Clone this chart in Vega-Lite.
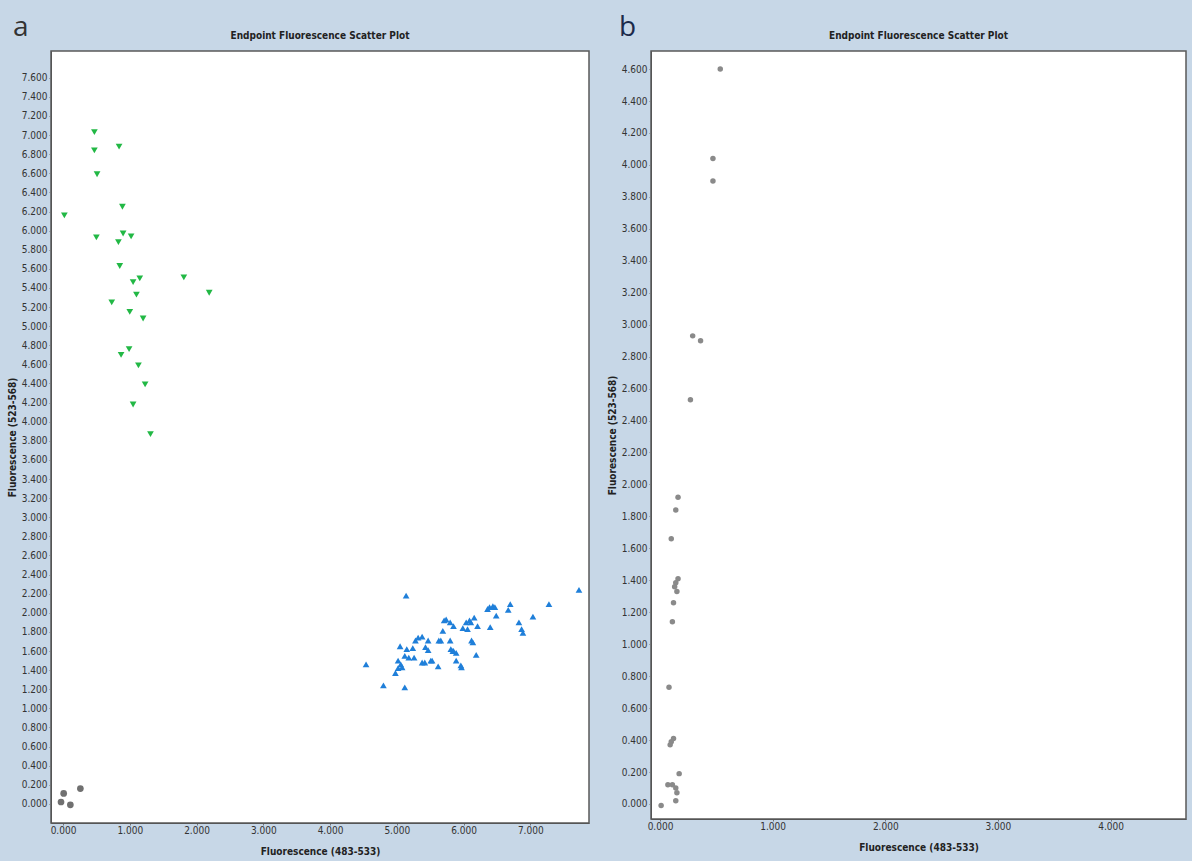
{
  "$schema": "https://vega.github.io/schema/vega-lite/v6.json",
  "background": "#c7d7e7",
  "padding": {"left": 6, "top": 14, "right": 6, "bottom": 4},
  "spacing": 16,
  "config": {
    "view": {"fill": "white", "stroke": "#5a5a5a", "strokeWidth": 1.5},
    "axis": {
      "labelFont": "DejaVu Sans Condensed, Liberation Sans, sans-serif",
      "labelFontSize": 10,
      "labelColor": "#333",
      "titleFont": "DejaVu Sans Condensed, Liberation Sans, sans-serif",
      "titleFontSize": 10,
      "titleFontWeight": "bold",
      "titleColor": "#222",
      "domainColor": "#555",
      "tickColor": "#777",
      "tickSize": 2,
      "grid": false
    },
    "title": {"font": "DejaVu Sans Condensed, Liberation Sans, sans-serif", "fontSize": 10, "fontWeight": "bold", "color": "#222"}
  },
  "datasets": {
    "a": [
      {"group": "green", "x": 0.47, "y": 7.03}, {"group": "green", "x": 0.47, "y": 6.84},
      {"group": "green", "x": 0.84, "y": 6.88}, {"group": "green", "x": 0.51, "y": 6.59},
      {"group": "green", "x": 0.89, "y": 6.25}, {"group": "green", "x": 0.02, "y": 6.16},
      {"group": "green", "x": 0.50, "y": 5.93}, {"group": "green", "x": 0.90, "y": 5.97},
      {"group": "green", "x": 1.02, "y": 5.94}, {"group": "green", "x": 0.83, "y": 5.88},
      {"group": "green", "x": 0.85, "y": 5.63}, {"group": "green", "x": 1.15, "y": 5.50},
      {"group": "green", "x": 1.05, "y": 5.46}, {"group": "green", "x": 1.81, "y": 5.51},
      {"group": "green", "x": 1.10, "y": 5.33}, {"group": "green", "x": 2.19, "y": 5.35},
      {"group": "green", "x": 0.73, "y": 5.25}, {"group": "green", "x": 1.00, "y": 5.15},
      {"group": "green", "x": 1.20, "y": 5.08}, {"group": "green", "x": 0.99, "y": 4.76},
      {"group": "green", "x": 0.87, "y": 4.70}, {"group": "green", "x": 1.13, "y": 4.59},
      {"group": "green", "x": 1.23, "y": 4.39}, {"group": "green", "x": 1.05, "y": 4.18},
      {"group": "green", "x": 1.31, "y": 3.87},
      {"group": "grey", "x": -0.03, "y": 0.02}, {"group": "grey", "x": 0.01, "y": 0.11},
      {"group": "grey", "x": 0.11, "y": -0.01}, {"group": "grey", "x": 0.26, "y": 0.16},
      {"group": "blue", "x": 5.14, "y": 2.18}, {"group": "blue", "x": 7.73, "y": 2.24},
      {"group": "blue", "x": 7.28, "y": 2.09}, {"group": "blue", "x": 6.70, "y": 2.09},
      {"group": "blue", "x": 6.67, "y": 2.03}, {"group": "blue", "x": 6.39, "y": 2.06},
      {"group": "blue", "x": 6.47, "y": 2.06}, {"group": "blue", "x": 6.49, "y": 1.97},
      {"group": "blue", "x": 6.40, "y": 1.85}, {"group": "blue", "x": 7.04, "y": 1.96},
      {"group": "blue", "x": 6.83, "y": 1.90}, {"group": "blue", "x": 6.87, "y": 1.83},
      {"group": "blue", "x": 6.89, "y": 1.79}, {"group": "blue", "x": 6.16, "y": 1.95},
      {"group": "blue", "x": 6.09, "y": 1.92}, {"group": "blue", "x": 6.04, "y": 1.90},
      {"group": "blue", "x": 5.99, "y": 1.84}, {"group": "blue", "x": 6.06, "y": 1.83},
      {"group": "blue", "x": 5.74, "y": 1.93}, {"group": "blue", "x": 5.80, "y": 1.90},
      {"group": "blue", "x": 5.85, "y": 1.86}, {"group": "blue", "x": 5.69, "y": 1.81},
      {"group": "blue", "x": 5.63, "y": 1.71}, {"group": "blue", "x": 6.12, "y": 1.71},
      {"group": "blue", "x": 6.19, "y": 1.56}, {"group": "blue", "x": 5.80, "y": 1.71},
      {"group": "blue", "x": 5.81, "y": 1.62}, {"group": "blue", "x": 5.85, "y": 1.60},
      {"group": "blue", "x": 5.89, "y": 1.58}, {"group": "blue", "x": 5.89, "y": 1.50},
      {"group": "blue", "x": 5.97, "y": 1.43}, {"group": "blue", "x": 5.62, "y": 1.44},
      {"group": "blue", "x": 5.51, "y": 1.50}, {"group": "blue", "x": 5.38, "y": 1.48},
      {"group": "blue", "x": 5.42, "y": 1.48}, {"group": "blue", "x": 5.47, "y": 1.71},
      {"group": "blue", "x": 5.47, "y": 1.61}, {"group": "blue", "x": 5.38, "y": 1.75},
      {"group": "blue", "x": 5.28, "y": 1.71}, {"group": "blue", "x": 5.32, "y": 1.74},
      {"group": "blue", "x": 5.24, "y": 1.63}, {"group": "blue", "x": 5.15, "y": 1.62},
      {"group": "blue", "x": 5.05, "y": 1.65}, {"group": "blue", "x": 5.12, "y": 1.55},
      {"group": "blue", "x": 5.18, "y": 1.53}, {"group": "blue", "x": 5.26, "y": 1.53},
      {"group": "blue", "x": 5.02, "y": 1.50}, {"group": "blue", "x": 5.06, "y": 1.46},
      {"group": "blue", "x": 5.02, "y": 1.42}, {"group": "blue", "x": 4.98, "y": 1.37},
      {"group": "blue", "x": 5.08, "y": 1.43}, {"group": "blue", "x": 4.54, "y": 1.46},
      {"group": "blue", "x": 4.80, "y": 1.24}, {"group": "blue", "x": 5.12, "y": 1.22},
      {"group": "blue", "x": 5.71, "y": 1.92}, {"group": "blue", "x": 6.11, "y": 1.90},
      {"group": "blue", "x": 6.21, "y": 1.86}, {"group": "blue", "x": 6.36, "y": 2.04},
      {"group": "blue", "x": 6.44, "y": 2.07}, {"group": "blue", "x": 5.66, "y": 1.71},
      {"group": "blue", "x": 5.53, "y": 1.50}, {"group": "blue", "x": 5.84, "y": 1.60},
      {"group": "blue", "x": 5.43, "y": 1.64}, {"group": "blue", "x": 6.14, "y": 1.69},
      {"group": "blue", "x": 5.96, "y": 1.45}
    ],
    "b": [
      {"x": 0.535, "y": 4.60}, {"x": 0.47, "y": 4.04}, {"x": 0.47, "y": 3.90},
      {"x": 0.29, "y": 2.93}, {"x": 0.36, "y": 2.90}, {"x": 0.27, "y": 2.53},
      {"x": 0.16, "y": 1.92}, {"x": 0.14, "y": 1.84}, {"x": 0.10, "y": 1.66},
      {"x": 0.16, "y": 1.41}, {"x": 0.14, "y": 1.385}, {"x": 0.13, "y": 1.36},
      {"x": 0.15, "y": 1.33}, {"x": 0.12, "y": 1.26}, {"x": 0.11, "y": 1.14},
      {"x": 0.08, "y": 0.73}, {"x": 0.12, "y": 0.41}, {"x": 0.10, "y": 0.39},
      {"x": 0.09, "y": 0.37}, {"x": 0.17, "y": 0.19}, {"x": 0.07, "y": 0.12},
      {"x": 0.11, "y": 0.12}, {"x": 0.14, "y": 0.10}, {"x": 0.15, "y": 0.07},
      {"x": 0.14, "y": 0.02}, {"x": 0.01, "y": -0.01}
    ]
  },
  "hconcat": [
    {
      "title": {"text": "a", "anchor": "start", "frame": "group", "font": "Open Sans", "fontSize": 28, "fontWeight": "normal", "color": "#333", "offset": -12, "dx": -38},
      "vconcat": [
        {
          "title": {"text": "Endpoint Fluorescence Scatter Plot", "anchor": "middle", "frame": "group", "offset": 10},
          "width": 538,
          "height": 772,
          "data": {"name": "a"},
          "mark": {"type": "point", "filled": true, "opacity": 1},
          "encoding": {
            "x": {"field": "x", "type": "quantitative", "scale": {"domain": [-0.18, 7.88], "nice": false, "zero": false},
              "axis": {"title": "Fluorescence (483-533)", "values": [0, 1, 2, 3, 4, 5, 6, 7], "format": ".3f", "labelPadding": 0, "titlePadding": 11}},
            "y": {"field": "y", "type": "quantitative", "scale": {"domain": [-0.2, 7.88], "nice": false, "zero": false},
              "axis": {"title": "Fluorescence (523-568)", "values": [0,0.2,0.4,0.6,0.8,1,1.2,1.4,1.6,1.8,2,2.2,2.4,2.6,2.8,3,3.2,3.4,3.6,3.8,4,4.2,4.4,4.6,4.8,5,5.2,5.4,5.6,5.8,6,6.2,6.4,6.6,6.8,7,7.2,7.4,7.6], "format": ".3f", "labelPadding": 2, "titlePadding": 4}},
            "color": {"field": "group", "type": "nominal", "scale": {"domain": ["green", "blue", "grey"], "range": ["#22b845", "#1f7fd9", "#707070"]}, "legend": null},
            "shape": {"field": "group", "type": "nominal", "scale": {"domain": ["green", "blue", "grey"], "range": ["triangle-down", "triangle-up", "circle"]}, "legend": null},
            "size": {"field": "group", "type": "nominal", "scale": {"domain": ["green", "blue", "grey"], "range": [45, 45, 30]}, "legend": null}
          }
        }
      ]
    },
    {
      "title": {"text": "b", "anchor": "start", "frame": "group", "font": "Open Sans", "fontSize": 28, "fontWeight": "normal", "color": "#1c2a4a", "offset": -12, "dx": -32},
      "vconcat": [
        {
          "title": {"text": "Endpoint Fluorescence Scatter Plot", "anchor": "middle", "frame": "group", "offset": 10},
          "width": 535,
          "height": 768,
          "data": {"name": "b"},
          "mark": {"type": "circle", "color": "#8a8a8a", "opacity": 1, "size": 30},
          "encoding": {
            "x": {"field": "x", "type": "quantitative", "scale": {"domain": [-0.08, 4.67], "nice": false, "zero": false},
              "axis": {"title": "Fluorescence (483-533)", "values": [0, 1, 2, 3, 4], "format": ".3f", "labelPadding": 0, "titlePadding": 11}},
            "y": {"field": "y", "type": "quantitative", "scale": {"domain": [-0.094, 4.713], "nice": false, "zero": false},
              "axis": {"title": "Fluorescence (523-568)", "values": [0,0.2,0.4,0.6,0.8,1,1.2,1.4,1.6,1.8,2,2.2,2.4,2.6,2.8,3,3.2,3.4,3.6,3.8,4,4.2,4.4,4.6], "format": ".3f", "labelPadding": 2, "titlePadding": 4}}
          }
        }
      ]
    }
  ]
}
